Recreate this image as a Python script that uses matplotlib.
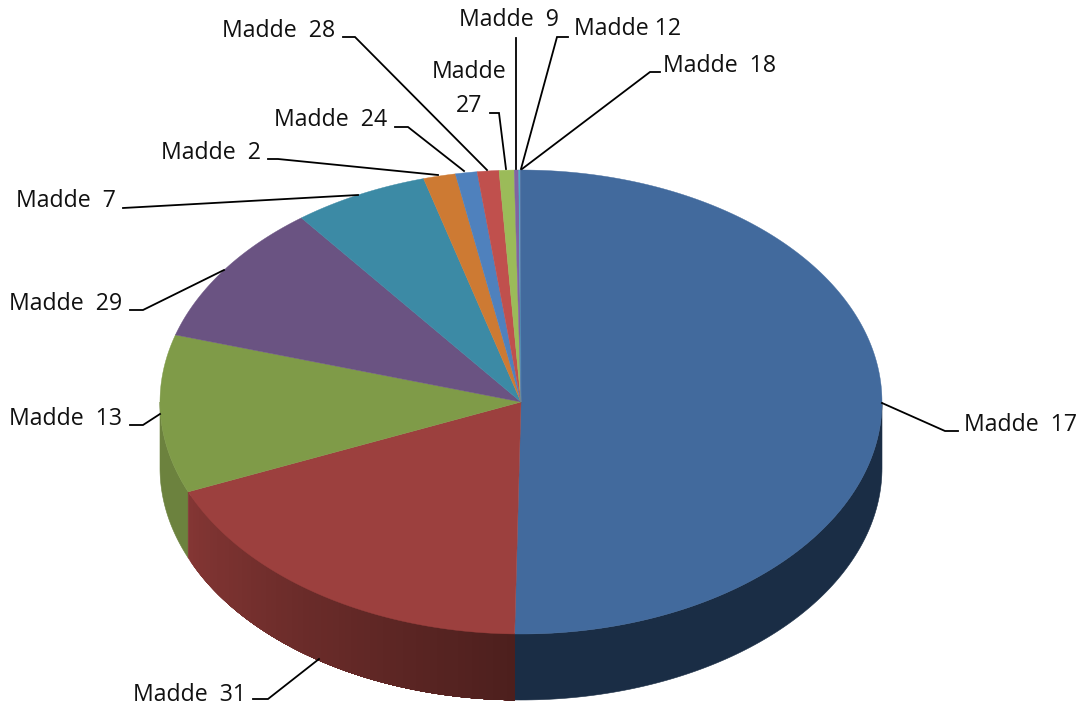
import numpy as np
import matplotlib
matplotlib.use('Agg')
import matplotlib.pyplot as plt

# slices clockwise from the top, share in percent
names = ['Madde  17', 'Madde  31', 'Madde  13', 'Madde  29', 'Madde  7', 'Madde  2',
         'Madde  24', 'Madde  28', 'Madde\n27', 'Madde  9', 'Madde 12', 'Madde  18']
shares = [50.28, 18.39, 11.0, 9.92, 6.06, 1.44, 0.97, 0.97, 0.67, 0.2, 0.07, 0.03]
colors = ['#426a9d', '#9c403e', '#7f9b48', '#6a5382', '#3c8aa5', '#cd7a33',
          '#4f81bd', '#c0504d', '#9bbb59', '#8064a2', '#4bacc6', '#4f6ea0']

# ellipse of the pie top, in pixels
cx, cy = 521, 402
rx, ry = 361, 232
depth = 66


def ellipse_pts(t, dy=0):
    return cx + rx*np.sin(t), cy - ry*np.cos(t) + dy


def wall(lo, hi, col):
    t = np.linspace(lo, hi, 100)
    x, y = ellipse_pts(t)
    x2, y2 = ellipse_pts(t, depth)
    ax.fill(np.r_[x, x2[::-1]], np.r_[y, y2[::-1]], color=col, lw=0.4, zorder=1)


plt.rcParams['font.family'] = ['Open Sans', 'DejaVu Sans']
fig = plt.figure(figsize=(10.89, 7.07), dpi=100)
ax = fig.add_axes([0, 0, 1, 1])
ax.set_xlim(0, 1089)
ax.set_ylim(707, 0)
ax.axis('off')

edges = np.cumsum([0] + shares)/sum(shares)*2*np.pi

# side wall: only the red part has a gradient, it overlaps itself so no seams show
wall(np.pi/2, edges[1], '#1a2d45')
wall(edges[2], 3*np.pi/2, '#6c823e')
steps = np.linspace(edges[2], edges[1], 60)
for a in steps[:-1]:
    f = (a - edges[2])/(edges[1] - edges[2])
    col = (np.array([132, 54, 52])*(1-f) + np.array([76, 31, 29])*f)/255
    wall(a, edges[1], col)

# top face
for i in range(len(shares)):
    t = np.linspace(edges[i], edges[i+1], max(int((edges[i+1]-edges[i])*120), 3))
    x, y = ellipse_pts(t)
    ax.fill(np.r_[cx, x], np.r_[cy, y], color=colors[i], lw=0.3, zorder=2)

# leader lines and labels
leaders = {
    'Madde  17': ([882, 945, 958], [403, 431, 431], 964, 423),
    'Madde  31': ([319, 268, 253], [659, 699, 699], 133, 693),
    'Madde  13': ([160, 143, 130], [414, 425, 425], 9, 417),
    'Madde  29': ([224, 143, 130], [270, 310, 310], 9, 302),
    'Madde  7': ([358, 123], [195, 208], 16, 199),
    'Madde  2': ([438, 278, 268], [175, 159, 159], 161, 151),
    'Madde  24': ([464, 408, 395], [171, 127, 127], 274, 118),
    'Madde  28': ([487, 355, 343], [170, 37, 37], 222, 29),
    'Madde\n27': ([506, 499, 490], [169, 113, 113], 469, 88),
    'Madde  9': ([516, 516], [169, 38], 459, 18),
    'Madde 12': ([521, 557, 568], [169, 37, 37], 574, 27),
    'Madde  18': ([522, 650, 660], [169, 72, 72], 663, 64),
}
for name in names:
    xs, ys, tx, ty = leaders[name]
    ax.plot(xs, ys, color='black', lw=1.3, zorder=3, solid_joinstyle='miter')
    if '\n' in name:
        ax.text(tx, ty + 1, name, fontsize=16.7, ha='center', va='center', linespacing=1.5, color='#111111')
    else:
        ax.text(tx, ty + 2, name, fontsize=16.7, ha='left', va='center', color='#111111')

fig.savefig('out.png', dpi=100)
